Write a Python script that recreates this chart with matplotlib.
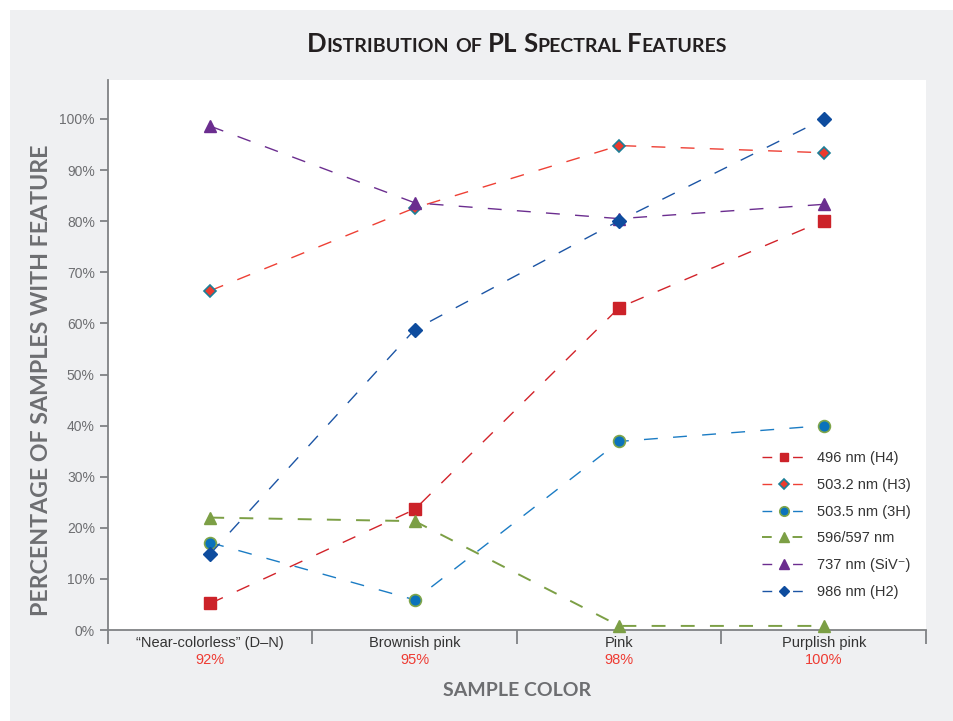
import matplotlib
matplotlib.use("Agg")
import matplotlib.pyplot as plt
from matplotlib import font_manager
from matplotlib.patches import Rectangle
from matplotlib.transforms import IdentityTransform
from matplotlib.ticker import FixedLocator

categories = ["\u201cNear-colorless\u201d (D\u2013N)", "Brownish pink", "Pink", "Purplish pink"]
totals = ["92%", "95%", "98%", "100%"]

h4 = [5.2, 23.6, 63.1, 80.1]
h3 = [66.4, 82.6, 94.8, 93.4]
h3b = [17.1, 5.9, 36.9, 40.0]
g596 = [22.0, 21.3, 0.8, 0.8]
siv = [98.6, 83.6, 80.5, 83.3]
h2 = [14.9, 58.8, 80.1, 100.0]

labels = ["496 nm (H4)", "503.2 nm (H3)", "503.5 nm (3H)", "596/597 nm",
          "737 nm (SiV\u207b)", "986 nm (H2)"]

INK = "#333333"
GREY = "#6d6e71"
BG = "#eff0f2"
RED_TXT = "#ee3b33"


def pick(*names):
    for n in names:
        try:
            font_manager.findfont(font_manager.FontProperties(family=n),
                                  fallback_to_default=False)
            return n
        except ValueError:
            pass
    return "DejaVu Sans"


HEAD = pick("Lato", "Open Sans", "Liberation Sans")
SANS = pick("Liberation Sans", "DejaVu Sans")
SANS_LIST = [SANS, "DejaVu Sans"]

W, H = 954, 721
fig = plt.figure(figsize=(W / 100, H / 100), dpi=100, facecolor="white")
fig.patches.append(Rectangle((10 / W, 0), 1 - 10 / W, (H - 10) / H,
                             transform=fig.transFigure, facecolor=BG,
                             edgecolor="none", zorder=-10))

ax = fig.add_axes([108 / W, (H - 630) / H, (926 - 108) / W, (630 - 80) / H])
ax.set_facecolor("white")
x = list(range(len(categories)))

dash = (10, 11)
series = [
    (h4, dict(color="#d2232a", marker="s", ms=8, mfc="#cc2229", mec="#cc2229")),
    (h3, dict(color="#ee4035", marker="D", ms=6, mfc="#ec3a2d", mec="#1b7f98", mew=1.2)),
    (h3b, dict(color="#1b7cc4", marker="o", ms=8.5, mfc="#0b72bb", mec="#7ea54a", mew=1.2)),
    (g596, dict(color="#7c9f45", marker="^", ms=9, mfc="#7c9f45", mec="#7c9f45", lw=1.4)),
    (siv, dict(color="#6b2d8f", marker="^", ms=9, mfc="#6b2d8f", mec="#6b2d8f")),
    (h2, dict(color="#1c55a5", marker="D", ms=6.8, mfc="#0e4c9e", mec="#0e4c9e")),
]
for (vals, kw), lab in zip(series, labels):
    kw.setdefault("lw", 1.0)
    lw = kw["lw"]
    ax.plot(x, vals, linestyle=(0, (dash[0] / lw, dash[1] / lw)), label=lab,
            zorder=3, clip_on=False, **kw)

ax.set_xlim(-0.5, 3.5)
ax.set_ylim(0, (630 - 80) / 5.11)
ax.set_yticks(range(0, 101, 10))
ax.set_yticklabels([f"{v}%" for v in range(0, 101, 10)])
ax.set_xticks(x)
ax.set_xticklabels(categories)
ax.xaxis.set_minor_locator(FixedLocator([-0.5, 0.5, 1.5, 2.5, 3.5]))
ax.tick_params(axis="x", which="major", length=0, pad=4, labelsize=10.5, labelcolor=INK)
ax.tick_params(axis="x", which="minor", length=10, width=1.3, color="#808285")
ax.tick_params(axis="y", length=6, width=1.3, color="#808285", pad=3.5,
               labelsize=10, labelcolor=GREY)
for lab in ax.get_xticklabels() + ax.get_yticklabels():
    lab.set_family(SANS_LIST)
for s in ("top", "right"):
    ax.spines[s].set_visible(False)
for s in ("left", "bottom"):
    ax.spines[s].set_color("#808285")
    ax.spines[s].set_linewidth(1.3)

for xi, t in zip(x, totals):
    ax.annotate(t, xy=(xi, 0), xycoords=("data", "axes fraction"),
                xytext=(0, -30 * 0.72), textcoords="offset points",
                ha="center", va="center", color=RED_TXT, fontsize=10.5, family=SANS_LIST)

leg = fig.legend(loc="upper left", bbox_to_anchor=(762 / W, (H - 451) / H),
                 frameon=False, borderpad=0, borderaxespad=0, handlelength=2.95,
                 handletextpad=0.85, labelspacing=0.88, markerscale=0.8,
                 prop={"family": SANS_LIST, "size": 10.5})
for t in leg.get_texts():
    t.set_color(INK)
for ln in leg.get_lines():
    lw = ln.get_linewidth()
    ln.set_linestyle((0, (7 / lw, 15 / lw)))

fig.text(42 / W, (H - 380) / H, "PERCENTAGE OF SAMPLES WITH FEATURE", rotation=90,
         ha="center", va="center", color=GREY, fontsize=16.7, weight="bold", family=HEAD)
fig.text(517 / W, (H - 691) / H, "SAMPLE COLOR", ha="center", va="center",
         color=GREY, fontsize=14, weight="bold", family=HEAD)

# small-caps title, laid out piece by piece
renderer = fig.canvas.get_renderer()
big, small = 18.5, 14.0
pieces = [("D", big), ("ISTRIBUTION", small), (" ", small), ("OF", small), (" ", small),
          ("PL", big), (" ", small), ("S", big), ("PECTRAL", small), (" ", small),
          ("F", big), ("EATURES", small)]
arts = []
for txt, size in pieces:
    if txt == " ":
        arts.append((None, size * 0.3 * 100 / 72))
        continue
    a = fig.text(0, H - 52, txt, transform=IdentityTransform(), ha="left", va="baseline",
                 fontsize=size, weight="bold", family=HEAD, color="#231f20")
    arts.append((a, a.get_window_extent(renderer).width))
total = sum(w for _, w in arts)
cur = 517 - total / 2
for a, w in arts:
    if a is not None:
        a.set_x(cur)
    cur += w

fig.savefig("out.png", dpi=100, facecolor="white")
